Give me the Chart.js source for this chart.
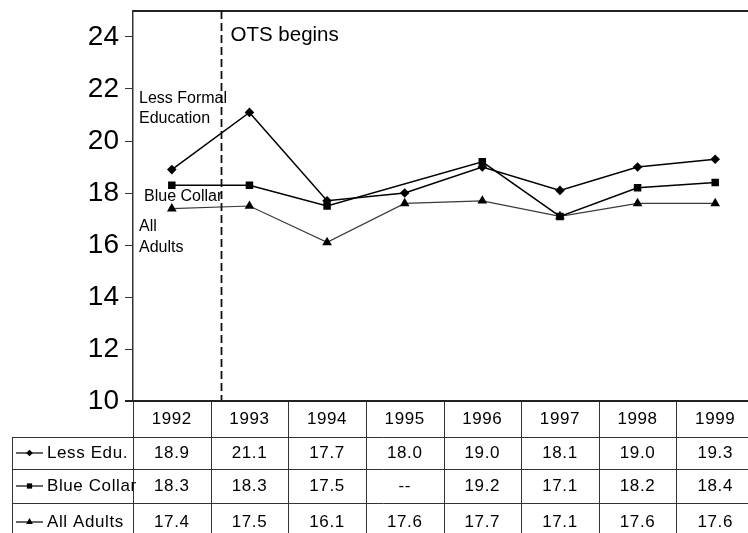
<!DOCTYPE html>
<html>
<head>
<meta charset="utf-8">
<script src="https://cdn.jsdelivr.net/npm/chart.js@4.4.1/dist/chart.umd.min.js"></script>
<style>
  html, body { margin: 0; padding: 0; background: #fff; overflow: hidden; }
  #wrap { width: 760px; height: 533px; }
</style>
</head>
<body>
<div id="wrap"><canvas id="chart" width="760" height="533"></canvas></div>
<script>
// ── data ──────────────────────────────────────────────
const years      = ["1992", "1993", "1994", "1995", "1996", "1997", "1998", "1999"];
const lessEdu    = [18.9, 21.1, 17.7, 18.0, 19.0, 18.1, 19.0, 19.3];
const blueCollar = [18.3, 18.3, 17.5, null, 19.2, 17.1, 18.2, 18.4];
const allAdults  = [17.4, 17.5, 16.1, 17.6, 17.7, 17.1, 17.6, 17.6];
const rowLabels  = ["Less Edu.", "Blue Collar", "All Adults"];
const yTicks     = [10, 12, 14, 16, 18, 20, 22, 24];
const otsAt      = 0.634;   // category position of the "OTS begins" line

const FONT = "'Liberation Sans', Arial, sans-serif";

const series = [
  { label: rowLabels[0], data: lessEdu,    style: "rectRot",  radius: 4.8, color: "#000", width: 1.5 },
  { label: rowLabels[1], data: blueCollar, style: "rect",     radius: 5.3, color: "#000", width: 1.5 },
  { label: rowLabels[2], data: allAdults,  style: "triangle", radius: 5.6, color: "#3a3a3a", width: 1.2 },
];

// ── overlay: frame, OTS line, side labels, data table ──
const overlay = {
  id: "overlay",
  afterDraw(chart) {
    const { ctx, chartArea: a, scales: { x } } = chart;
    const colW = (a.right - a.left) / years.length;
    ctx.save();

    // top frame line
    ctx.strokeStyle = "#222";
    ctx.lineWidth = 2;
    ctx.beginPath();
    ctx.moveTo(a.left, a.top); ctx.lineTo(a.right, a.top);
    ctx.stroke();

    // OTS dashed line
    const ox = Math.round(x.getPixelForValue(otsAt)) + 0.5;
    ctx.strokeStyle = "#111";
    ctx.lineWidth = 1.8;
    ctx.setLineDash([8, 4]);
    ctx.beginPath();
    ctx.moveTo(ox, a.top); ctx.lineTo(ox, a.bottom);
    ctx.stroke();
    ctx.setLineDash([]);

    // annotations
    ctx.fillStyle = "#000";
    ctx.textAlign = "left";
    ctx.textBaseline = "alphabetic";
    ctx.font = "20.5px " + FONT;
    ctx.fillText("OTS begins", ox + 9, a.top + 30);
    ctx.font = "16px " + FONT;
    ctx.fillText("Less Formal", a.left + 6, a.top + 92);
    ctx.fillText("Education",   a.left + 6, a.top + 112);
    ctx.fillText("Blue Collar", a.left + 11, a.top + 190);
    ctx.fillText("All",         a.left + 6, a.top + 220);
    ctx.fillText("Adults",      a.left + 6, a.top + 241);

    // table grid
    const rowTop = [a.bottom, a.bottom + 36, a.bottom + 68, a.bottom + 102, a.bottom + 136];
    const tableLeft = 12.5;
    ctx.strokeStyle = "#333";
    ctx.lineWidth = 1;
    for (let i = 0; i <= years.length; i++) {
      const cx = Math.round(a.left + i * colW) + 0.5;
      ctx.beginPath();
      ctx.moveTo(cx, a.bottom); ctx.lineTo(cx, chart.height);
      ctx.stroke();
    }
    ctx.beginPath();
    ctx.moveTo(tableLeft, rowTop[1]); ctx.lineTo(tableLeft, chart.height);
    ctx.stroke();
    for (let r = 1; r <= 3; r++) {
      const ry = Math.round(rowTop[r]) + 0.5;
      ctx.beginPath();
      ctx.moveTo(tableLeft, ry); ctx.lineTo(a.right, ry);
      ctx.stroke();
    }

    // bottom axis line (heavier)
    ctx.strokeStyle = "#222";
    ctx.lineWidth = 2;
    ctx.beginPath();
    ctx.moveTo(a.left - 8, a.bottom); ctx.lineTo(a.right, a.bottom);
    ctx.stroke();

    // header + values
    ctx.font = "17px " + FONT;
    ctx.letterSpacing = "0.6px";
    ctx.textAlign = "center";
    ctx.textBaseline = "middle";
    ctx.fillStyle = "#000";
    years.forEach((yr, i) => {
      const cx = x.getPixelForValue(i);
      ctx.fillText(yr, cx, (rowTop[0] + rowTop[1]) / 2);
      series.forEach((s, r) => {
        const v = s.data[i];
        const txt = v === null ? "--" : v.toFixed(1);
        const cy = r < 2 ? (rowTop[r + 1] + rowTop[r + 2]) / 2 : rowTop[3] + 19;
        ctx.fillText(txt, cx, cy);
      });
    });

    // row labels with legend keys
    series.forEach((s, r) => {
      const cy = r < 2 ? (rowTop[r + 1] + rowTop[r + 2]) / 2 : rowTop[3] + 19;
      ctx.strokeStyle = "#000";
      ctx.lineWidth = 1.2;
      ctx.beginPath();
      ctx.moveTo(16, cy); ctx.lineTo(43, cy);
      ctx.stroke();
      ctx.fillStyle = "#000";
      Chart.helpers.drawPoint(ctx, { pointStyle: s.style, radius: s.radius * 0.7, rotation: 0, borderWidth: 0 }, 29.5, cy);
      ctx.textAlign = "left";
      ctx.fillText(s.label, 47, cy);
    });

    ctx.restore();
  }
};

new Chart(document.getElementById("chart"), {
  type: "line",
  data: {
    labels: years,
    datasets: series.map(s => ({
      label: s.label,
      data: s.data,
      borderColor: s.color,
      borderWidth: s.width,
      pointStyle: s.style,
      pointRadius: s.radius,
      pointBackgroundColor: "#000",
      pointBorderColor: "#000",
      pointBorderWidth: 0,
      tension: 0,
      spanGaps: true,
    })),
  },
  options: {
    responsive: false,
    animation: false,
    layout: { padding: { left: 0, top: 11, right: 6, bottom: 132 } },
    plugins: { legend: { display: false }, tooltip: { enabled: false } },
    scales: {
      x: { display: false, offset: true },
      y: {
        min: 10,
        max: 25,
        afterBuildTicks: sc => { sc.ticks = yTicks.map(v => ({ value: v })); },
        afterFit: sc => { sc.width = 133; sc.paddingTop = 0; sc.paddingBottom = 0; },
        border: { display: true, color: "#333", width: 1.5 },
        grid: { drawOnChartArea: false, tickLength: 8, color: "#333", lineWidth: 1 },
        ticks: { color: "#000", padding: 6, font: { size: 28, family: FONT } },
      },
    },
  },
  plugins: [overlay],
});
</script>
</body>
</html>
